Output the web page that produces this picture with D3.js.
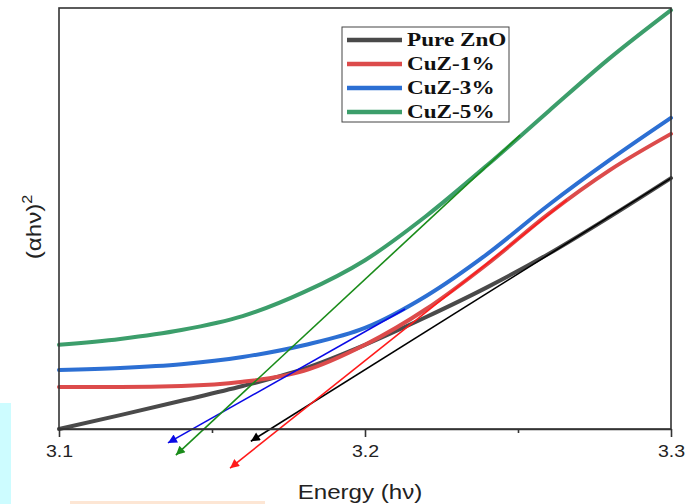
<!DOCTYPE html>
<html>
<head>
<meta charset="utf-8">
<script src="https://cdn.jsdelivr.net/npm/d3@7/dist/d3.min.js"></script>
<style>
  body { margin: 0; background: #fff; }
  svg { display: block; }
</style>
</head>
<body>
<div id="chart"></div>
<script>
// DATA ((αhν)² in arbitrary units)
const energy  = [3.10, 3.12, 3.14, 3.16, 3.18, 3.20, 3.22, 3.24, 3.26, 3.28, 3.30];
const pureZnO = [0.0, 3.3, 6.7, 10.2, 14.3, 20.0, 26.6, 33.7, 41.6, 50.4, 59.6];
const cuz1    = [10.0, 10.0, 10.2, 11.2, 13.8, 20.0, 28.5, 39.2, 51.1, 61.5, 70.1];
const cuz3    = [14.0, 14.5, 15.4, 17.1, 19.9, 24.0, 31.6, 41.6, 53.2, 63.9, 73.9];
const cuz5    = [20.0, 21.4, 23.5, 26.8, 32.5, 40.1, 50.6, 62.7, 75.5, 88.1, 99.5];

const seriesNames  = ["Pure ZnO", "CuZ-1%", "CuZ-3%", "CuZ-5%"];
const seriesColors = ["#4a4a4a", "#dc4b4b", "#2c6fd3", "#3c9e6b"];

// linear extrapolation lines: [low end (arrow), high end]
const fitEnergy = [[3.1627, 3.300], [3.1559, 3.2660], [3.1356, 3.2131], [3.1382, 3.2507]];
const fitValue  = [[-2.9, 59.6], [-9.3, 54.4], [-3.3, 28.5], [-6.2, 69.8]];
const fitColors = ["#000000", "#ff1a1a", "#0a0ae6", "#1a8c1a"];

const xTicks      = [3.1, 3.2, 3.3];
const xMinorTicks = [3.15, 3.25];

// CONFIGURATION
const svgWidth = 687, svgHeight = 504;
const margin = {top: 8, right: 16, bottom: 75, left: 59};
const width = svgWidth - margin.left - margin.right;
const height = svgHeight - margin.top - margin.bottom;
const stretch = 1.15;   // the source image is a bit wider than tall

const svg = d3.select("#chart")
    .append("svg")
    .attr("width", svgWidth)
    .attr("height", svgHeight);

// scan artefacts along the bottom-left of the source picture
svg.append("rect").attr("x", 0).attr("y", 403).attr("width", 11).attr("height", 101).attr("fill", "#cdfcff");
svg.append("rect").attr("x", 70).attr("y", 501).attr("width", 195).attr("height", 3).attr("fill", "#fde6d4");

const g = svg.append("g")
    .attr("transform", `translate(${margin.left} ${margin.top})`);

const x = d3.scaleLinear().domain([3.1, 3.3]).range([0, width]);
const y = d3.scaleLinear().domain([0, 100]).range([height, 0]);

// arrow heads
const defs = svg.append("defs");
fitColors.forEach((c, i) => {
    defs.append("marker")
        .attr("id", "arrow" + i)
        .attr("viewBox", "0 0 10 10")
        .attr("refX", 10)
        .attr("refY", 5)
        .attr("markerUnits", "userSpaceOnUse")
        .attr("markerWidth", 12)
        .attr("markerHeight", 9)
        .attr("orient", "auto-start-reverse")
        .append("path")
        .attr("d", "M0,0 L10,5 L0,10 Z")
        .attr("fill", c);
});

// curves
const series = [pureZnO, cuz1, cuz3, cuz5];
const line = d3.line()
    .x((d, i) => x(energy[i]))
    .y(d => y(d))
    .curve(d3.curveMonotoneX);

g.selectAll(".curve")
    .data(series)
    .enter()
    .append("path")
    .attr("class", "curve")
    .attr("d", line)
    .attr("fill", "none")
    .attr("stroke", (d, i) => seriesColors[i])
    .attr("stroke-width", 4)
    .attr("stroke-linecap", "round");

// extrapolation lines
g.selectAll(".fit")
    .data(fitEnergy)
    .enter()
    .append("line")
    .attr("class", "fit")
    .attr("x1", d => x(d[0]))
    .attr("x2", d => x(d[1]))
    .attr("y1", (d, i) => y(fitValue[i][0]))
    .attr("y2", (d, i) => y(fitValue[i][1]))
    .attr("stroke", (d, i) => fitColors[i])
    .attr("stroke-width", 1.6)
    .attr("marker-start", (d, i) => `url(#arrow${i})`);

// frame + axes
const axisColor = "#333";
g.append("rect")
    .attr("width", width)
    .attr("height", height)
    .attr("fill", "none")
    .attr("stroke", axisColor)
    .attr("stroke-width", 1.6);

let xAxis = g.append("g")
    .attr("transform", `translate(0 ${height})`)
    .call(d3.axisBottom(x).tickValues(xTicks).tickSize(8).tickSizeOuter(0).tickFormat(d3.format(".1f")));
xAxis.select(".domain").attr("stroke", axisColor).attr("stroke-width", 1.6);
xAxis.selectAll(".tick line").attr("stroke", axisColor).attr("stroke-width", 1.6);
xAxis.selectAll(".tick text")
    .attr("font-family", "'Liberation Sans', Arial, sans-serif")
    .attr("font-size", 17)
    .attr("fill", "#222")
    .attr("y", 0)
    .attr("dy", 0)
    .attr("transform", `translate(0 28) scale(${stretch} 1)`);

g.append("g")
    .attr("transform", `translate(0 ${height})`)
    .call(d3.axisBottom(x).tickValues(xMinorTicks).tickSize(4).tickFormat(""))
    .call(a => a.select(".domain").remove())
    .selectAll(".tick line").attr("stroke", axisColor).attr("stroke-width", 1.6);

// axis titles
svg.append("text")
    .attr("transform", `translate(${margin.left + x(3.2) - 5} 499) scale(${stretch} 1)`)
    .attr("text-anchor", "middle")
    .attr("font-family", "'Liberation Sans', Arial, sans-serif")
    .attr("font-size", 21)
    .attr("fill", "#222")
    .text("Energy (hν)");

let yTitle = svg.append("text")
    .attr("transform", `translate(41 227) rotate(-90) scale(${stretch} 1)`)
    .attr("text-anchor", "middle")
    .attr("font-family", "'Liberation Sans', Arial, sans-serif")
    .attr("font-size", 21)
    .attr("fill", "#222");
yTitle.append("tspan").text("(αhν)");
yTitle.append("tspan").attr("dy", -9).attr("font-size", 14).text("2");

// legend
const legend = svg.append("g").attr("transform", "translate(342 27)");
legend.append("rect")
    .attr("width", 167)
    .attr("height", 95)
    .attr("fill", "#fff")
    .attr("stroke", "#444")
    .attr("stroke-width", 1);

let rows = legend.selectAll(".row")
    .data(seriesNames)
    .enter()
    .append("g")
    .attr("class", "row")
    .attr("transform", (d, i) => `translate(0 ${13 + i * 24})`);

rows.append("line")
    .attr("x1", 5).attr("x2", 60)
    .attr("stroke", (d, i) => seriesColors[i])
    .attr("stroke-width", 4.5);

rows.append("text")
    .attr("transform", "translate(65 6) scale(1.22 1)")
    .attr("font-family", "'Liberation Serif', 'Times New Roman', serif")
    .attr("font-weight", "bold")
    .attr("font-size", 19)
    .attr("fill", "#111")
    .text(d => d);
</script>
</body>
</html>
